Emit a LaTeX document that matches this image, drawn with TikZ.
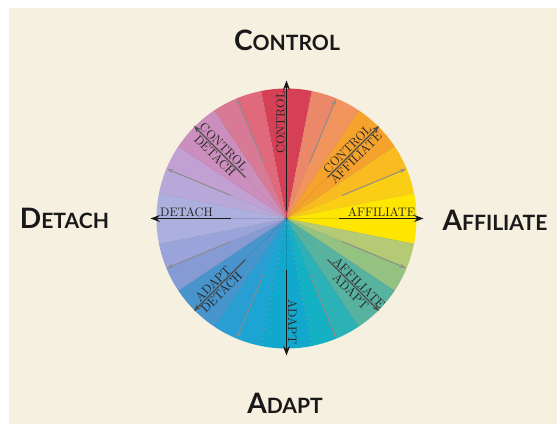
\documentclass[tikz,border=0pt]{standalone}
\usepackage{fontspec}
\newfontfamily\titlefont{Lato}
\usetikzlibrary{arrows.meta}

\definecolor{parchment}{RGB}{245,240,224}
\definecolor{wcontrol}{RGB}{214,64,86}
\definecolor{wca}{RGB}{246,163,45}
\definecolor{waffiliate}{RGB}{255,230,0}
\definecolor{waa}{RGB}{88,178,160}
\definecolor{wadapt}{RGB}{18,168,206}
\definecolor{wad}{RGB}{72,148,204}
\definecolor{wdetach}{RGB}{172,176,222}
\definecolor{wcd}{RGB}{204,142,188}

\tikzset{
  divider/.style={black, opacity=0.12, line width=0.3pt},
  mainarrow/.style={-{Stealth[length=8pt,width=6pt]}, line width=1.3pt, black!90},
  diagarrow/.style={-{Stealth[length=6pt,width=4.5pt]}, line width=1pt, black!70},
  thinarrow/.style={-{Stealth[length=5pt,width=3.5pt]}, line width=0.8pt, black!45},
  wheeltext/.style={font=\fontsize{10.5}{11}\selectfont, inner sep=1.2pt, text=black!85},
  title/.style={font=\titlefont\bfseries, text=black!90, inner sep=0pt},
}

\newcommand{\capsword}[2]{{\fontsize{24}{24}\selectfont #1}{\fontsize{18}{18}\selectfont #2}}

\begin{document}
\begin{tikzpicture}[x=0.03cm,y=0.03cm]
    \useasboundingbox (-286.5,-205.5) rectangle (270.5,218.5);
    \fill[white] (-286.5,-205.5) rectangle (270.5,218.5);
    \fill[parchment] (-277,-205.5) rectangle (270.5,210.5);

    % colour bands, clockwise from the top
    \foreach \a/\b/\c in {
        78.75/101.25/wcontrol, 67.5/78.75/{rgb,255:red,236;green,136;blue,106},
        56.25/67.5/{rgb,255:red,241;green,148;blue,94}, 33.75/56.25/wca,
        22.5/33.75/{rgb,255:red,249;green,188;blue,32}, 11.25/22.5/{rgb,255:red,251;green,206;blue,22},
        -11.25/11.25/waffiliate, -22.5/-11.25/{rgb,255:red,180;green,202;blue,116},
        -33.75/-22.5/{rgb,255:red,148;green,194;blue,128}, -56.25/-33.75/waa,
        -67.5/-56.25/{rgb,255:red,44;green,178;blue,182}, -78.75/-67.5/{rgb,255:red,20;green,176;blue,196},
        -101.25/-78.75/wadapt, -112.5/-101.25/{rgb,255:red,28;green,164;blue,210},
        -123.75/-112.5/{rgb,255:red,40;green,158;blue,210}, -146.25/-123.75/wad,
        -157.5/-146.25/{rgb,255:red,134;green,154;blue,212}, -168.75/-157.5/{rgb,255:red,154;green,164;blue,218},
        168.75/191.25/wdetach, 157.5/168.75/{rgb,255:red,184;green,168;blue,218},
        146.25/157.5/{rgb,255:red,194;green,160;blue,212}, 123.75/146.25/wcd,
        112.5/123.75/{rgb,255:red,216;green,122;blue,150}, 101.25/112.5/{rgb,255:red,224;green,106;blue,124}}
        \fill[color=\c] (0,0) -- (\a:130) arc (\a:\b:130) -- cycle;
    \foreach \a in {0,11.25,...,348.75}
        \draw[divider] (0,0) -- (\a:130);

    % arrows
    \foreach \t in {67.5,22.5,-22.5,-67.5,-112.5,-157.5,157.5,112.5}
        \draw[thinarrow] (\t:60) -- (\t:129);
    \foreach \t in {45,-45,-135,135}
        \draw[diagarrow] (\t:58) -- (\t:131);
    \draw[mainarrow] (90:8) -- (90:138);
    \draw[mainarrow] (0:53) -- (0:137);
    \draw[mainarrow] (-90:52) -- (-90:137);
    \draw[mainarrow] (180:55) -- (180:136);

    % labels in the wheel
    \node[wheeltext, rotate=90, anchor=south] (lcontrol) at (90:96) {CONTROL};
    \node[wheeltext, anchor=south] (laffiliate) at (0:95) {AFFILIATE};
    \node[wheeltext, rotate=-90, anchor=south] (ladapt) at (-90:103) {ADAPT};
    \node[wheeltext, anchor=south] (ldetach) at (180:100) {DETACH};
    \node[wheeltext, rotate=45, anchor=south] (lcaf1) at (45:92) {CONTROL};
    \node[wheeltext, rotate=45, anchor=north] (lcaf2) at (45:92) {AFFILIATE};
    \node[wheeltext, rotate=-45, anchor=south] (laad1) at (-45:97) {AFFILIATE};
    \node[wheeltext, rotate=-45, anchor=north] (laad2) at (-45:97) {ADAPT};
    \node[wheeltext, rotate=45, anchor=south] (ladd1) at (-135:98) {ADAPT};
    \node[wheeltext, rotate=45, anchor=north] (ladd2) at (-135:98) {DETACH};
    \node[wheeltext, rotate=-45, anchor=south] (lcd1) at (135:95) {CONTROL};
    \node[wheeltext, rotate=-45, anchor=north] (lcd2) at (135:95) {DETACH};

    % titles round the wheel
    \node[title] (tcontrol) at (0.5,178.5) {\capsword{C}{ONTROL}};
    \node[title] (tdetach) at (-222,0.5) {\capsword{D}{ETACH}};
    \node[title] (taffiliate) at (208.5,-1.5) {\capsword{A}{FFILIATE}};
    \node[title] (tadapt) at (-1.5,-184.5) {\capsword{A}{DAPT}};
\end{tikzpicture}
\end{document}
